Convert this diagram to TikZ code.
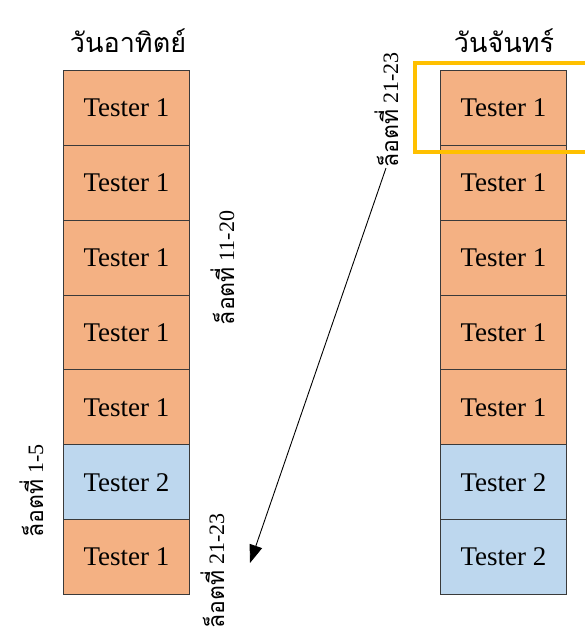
\documentclass[tikz,border=0pt]{standalone}
\usepackage{fontspec}
\setmainfont{Liberation Serif}
\newfontfamily\thaifont[Script=Thai]{Loma}
\usetikzlibrary{arrows.meta}
\definecolor{orangecell}{HTML}{F4B183}
\definecolor{bluecell}{HTML}{BDD7EE}
\definecolor{cellline}{HTML}{3A3A3A}
\definecolor{marker}{HTML}{FFC000}
\newcommand{\lot}[1]{{\thaifont\fontsize{23}{26}\selectfont ล็อตที่}\ #1}

\begin{document}
\begin{tikzpicture}[x=1pt,y=-1pt,
  cell/.style={draw=cellline, line width=1pt, minimum width=126pt, minimum height=74.86pt,
    inner sep=0pt, anchor=north west, font=\fontsize{27}{29}\selectfont},
  t1/.style={cell, fill=orangecell},
  t2/.style={cell, fill=bluecell},
  head/.style={anchor=base, inner sep=0pt, font=\thaifont\fontsize{27}{30}\selectfont},
  lotlabel/.style={rotate=90, anchor=base, inner sep=0pt, font=\fontsize{22}{25}\selectfont},
  link/.style={draw=black, line width=0.9pt, -{Triangle[length=18pt,width=13pt]}}]
\useasboundingbox (0,0) rectangle (585,632);

% day headings
\node[head] (hSun) at (128,52) {วันอาทิตย์};
\node[head] (hMon) at (504,52) {วันจันทร์};

% Sunday column
\node[t1] (L1) at (63,70) {Tester 1};
\node[t1] (L2) at (63,144.86) {Tester 1};
\node[t1] (L3) at (63,219.71) {Tester 1};
\node[t1] (L4) at (63,294.57) {Tester 1};
\node[t1] (L5) at (63,369.43) {Tester 1};
\node[t2] (L6) at (63,444.29) {Tester 2};
\node[t1] (L7) at (63,519.14) {Tester 1};

% Monday column
\node[t1] (R1) at (440,70) {Tester 1};
\node[t1] (R2) at (440,144.86) {Tester 1};
\node[t1] (R3) at (440,219.71) {Tester 1};
\node[t1] (R4) at (440,294.57) {Tester 1};
\node[t1] (R5) at (440,369.43) {Tester 1};
\node[t2] (R6) at (440,444.29) {Tester 2};
\node[t2] (R7) at (440,519.14) {Tester 2};

% highlight around the first Monday slot
\draw[marker, line width=4pt] (588,62.5) -- (415,62.5) -- (415,152) -- (588,152);

% lot labels
\node[lotlabel] (lotA) at (234,268) {\lot{11-20}};
\node[lotlabel] (lotB) at (43,491) {\lot{1-5}};
\node[lotlabel] (lotC) at (398,110) {\lot{21-23}};
\node[lotlabel] (lotD) at (224,571) {\lot{21-23}};

% move of lots 21-23
\coordinate (from) at (386,168);
\coordinate (to) at (250,563);
\draw[link] (from) -- (to);
\end{tikzpicture}
\end{document}
